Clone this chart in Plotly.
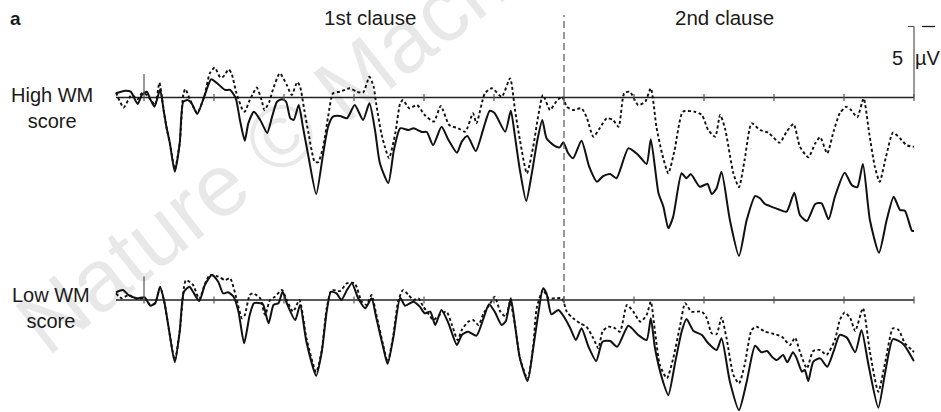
import plotly.graph_objects as go

# ---------------- data (time in ms, amplitude in microvolts; negative plotted up) ----------------
high_wm_solid = [(-200,-0.30),(-135,-0.48),(-95,-0.41),(-45,0.46),(-15,-0.18),(20,-0.41),(45,0.13),(75,0.65),(115,-0.56),(140,0.88),(160,2.06),(185,3.23),(220,5.23),(255,3.23),(280,0.32),(310,0.18),(340,0.41),(380,1.16),(430,-0.06),(480,-1.28),(520,-1.02),(580,-0.53),(615,-0.53),(655,0.04),(685,1.58),(720,3.04),(745,1.82),(785,1.00),(830,1.58),(880,2.50),(915,1.35),(950,0.30),(985,0.13),(1015,0.30),(1045,1.46),(1070,1.58),(1105,0.53),(1135,2.06),(1175,4.17),(1230,6.80),(1280,3.93),(1315,2.06),(1350,1.35),(1400,1.30),(1450,1.46),(1505,0.53),(1565,1.58),(1610,0.41),(1650,2.29),(1685,4.63),(1745,6.02),(1785,3.70),(1830,2.17),(1890,2.29),(1925,2.17),(1985,2.43),(2020,2.43),(2065,3.35),(2125,2.06),(2175,2.99),(2235,3.89),(2270,3.11),(2310,2.71),(2370,3.77),(2425,2.17),(2470,0.93),(2505,1.11),(2580,2.41),(2620,0.93),(2650,2.76),(2685,5.11),(2730,7.29),(2770,5.34),(2810,2.99),(2845,1.58),(2875,2.87),(2925,3.35),(2970,3.51),(2995,3.15),(3030,3.93),(3065,4.28),(3125,3.04),(3180,4.87),(3235,5.93),(3280,5.53),(3330,5.39),(3375,5.69),(3460,3.58),(3530,4.05),(3590,4.68),(3620,2.94),(3675,6.75),(3710,7.69),(3745,9.21),(3780,8.39),(3840,5.34),(3875,5.69),(3905,5.39),(3970,6.28),(4025,6.09),(4055,6.80),(4090,6.39),(4125,5.23),(4185,8.63),(4250,11.16),(4305,8.63),(4365,6.94),(4400,7.10),(4435,7.50),(4470,7.64),(4530,7.87),(4590,8.04),(4645,6.70),(4685,8.27),(4735,8.70),(4795,7.50),(4840,7.45),(4890,8.58),(4935,6.99),(5005,5.30),(5055,6.16),(5095,6.32),(5135,4.68),(5185,8.63),(5250,10.93),(5305,8.63),(5355,6.99),(5400,7.92),(5435,7.97),(5485,9.38),(5500,9.40)]

high_wm_dashed = [(-200,-0.35),(-145,0.70),(-90,-0.18),(-45,0.11),(-15,-0.30),(20,-0.18),(55,0.25),(80,0.53),(110,-1.04),(140,0.88),(160,2.06),(185,3.23),(220,5.04),(255,3.23),(280,-0.18),(295,-0.60),(330,0.18),(380,1.09),(430,-0.06),(470,-1.70),(505,-2.11),(545,-1.41),(565,-1.46),(605,-1.97),(625,-1.70),(660,-0.32),(705,0.88),(720,1.00),(750,0.30),(780,-0.30),(805,-0.70),(840,0.18),(860,0.88),(895,0.30),(920,-0.53),(970,-1.70),(1020,-0.88),(1055,-0.18),(1095,-1.09),(1115,-0.76),(1145,0.88),(1175,2.52),(1220,4.54),(1245,4.54),(1280,3.46),(1315,1.35),(1350,-0.30),(1400,-0.41),(1470,-0.65),(1520,-0.41),(1565,-0.35),(1610,-1.46),(1640,-0.76),(1660,0.53),(1695,2.52),(1720,3.46),(1750,4.28),(1795,2.52),(1830,0.41),(1850,0.18),(1895,0.76),(1950,0.53),(2005,1.23),(2070,1.70),(2120,0.60),(2180,1.94),(2245,2.17),(2295,2.41),(2350,1.11),(2375,1.82),(2435,-0.30),(2485,-0.65),(2555,-0.06),(2615,-1.35),(2650,0.88),(2685,2.99),(2735,5.34),(2780,3.46),(2815,1.35),(2850,-0.18),(2900,0.88),(2935,0.41),(2985,-0.06),(3020,0.65),(3065,0.88),(3125,0.76),(3160,1.35),(3210,2.76),(3255,2.17),(3305,1.46),(3350,1.58),(3390,2.06),(3430,-0.30),(3470,-0.41),(3530,0.53),(3580,0.30),(3620,-0.65),(3660,2.06),(3700,3.93),(3745,5.34),(3790,3.70),(3850,1.00),(3935,1.00),(3985,1.23),(4030,2.29),(4080,2.76),(4115,1.23),(4150,2.17),(4210,5.34),(4250,6.32),(4290,4.40),(4340,1.82),(4400,2.29),(4460,2.48),(4540,3.18),(4590,2.41),(4640,1.87),(4685,3.46),(4745,4.21),(4795,3.23),(4830,2.80),(4880,3.93),(4925,2.41),(4970,1.11),(5015,0.65),(5050,0.88),(5095,1.39),(5140,0.06),(5180,2.52),(5220,4.87),(5255,5.93),(5300,4.17),(5350,2.48),(5400,2.87),(5445,3.35),(5490,3.46),(5500,3.46)]

low_wm_solid = [(-200,-0.54),(-150,-0.70),(-110,-0.35),(-50,-0.12),(5,-0.19),(45,0.40),(80,0.23),(115,-0.94),(145,0.12),(175,1.88),(220,4.39),(255,2.23),(285,-0.58),(325,-0.94),(350,-0.58),(395,0.07),(435,-1.06),(485,-1.76),(530,-1.29),(565,-0.47),(600,-0.54),(640,-0.23),(675,0.82),(715,3.05),(755,1.06),(785,0.23),(830,0.23),(850,0.30),(890,1.64),(925,0.35),(960,0.23),(990,-0.58),(1020,0.23),(1080,1.41),(1115,0.35),(1160,2.94),(1230,5.33),(1270,3.64),(1305,0.82),(1335,-0.58),(1375,-0.47),(1410,0.00),(1450,-0.70),(1485,-1.18),(1530,-0.12),(1580,0.58),(1625,-0.12),(1660,1.29),(1710,3.40),(1740,4.51),(1780,2.70),(1830,-0.16),(1865,0.40),(1925,0.12),(1970,0.47),(2005,0.94),(2045,0.82),(2080,1.76),(2125,0.70),(2175,1.64),(2235,3.17),(2270,2.46),(2315,2.23),(2375,2.51),(2425,1.29),(2465,0.30),(2505,0.82),(2555,1.76),(2585,1.48),(2620,-0.12),(2650,1.76),(2685,4.11),(2740,5.70),(2780,3.40),(2815,1.06),(2850,-0.82),(2875,-0.47),(2910,1.01),(2960,0.70),(3000,1.18),(3045,1.99),(3085,2.82),(3125,1.99),(3175,3.29),(3230,4.30),(3275,2.94),(3330,2.89),(3380,3.29),(3460,1.81),(3530,2.46),(3590,2.82),(3620,1.29),(3650,3.40),(3700,5.51),(3745,6.69),(3795,4.35),(3840,2.23),(3875,1.34),(3925,2.18),(3985,2.46),(4030,3.05),(4090,3.52),(4125,2.70),(4185,5.75),(4250,7.75),(4305,5.75),(4365,3.22),(4410,3.68),(4450,3.59),(4485,3.99),(4520,4.23),(4565,3.87),(4595,4.39),(4635,3.68),(4660,4.06),(4700,5.05),(4720,4.93),(4745,5.70),(4780,4.35),(4830,4.11),(4880,4.70),(4925,3.64),(4970,2.46),(5020,2.65),(5080,3.68),(5125,2.11),(5175,4.58),(5245,7.58),(5295,5.05),(5350,2.75),(5425,3.12),(5495,4.23),(5500,4.30)]

low_wm_dashed = [(-200,-0.47),(-160,-0.12),(-110,-0.35),(-50,-0.07),(5,-0.14),(45,0.35),(80,0.21),(115,-0.88),(145,0.14),(175,1.90),(220,4.23),(255,2.18),(285,-0.85),(300,-1.41),(350,-1.06),(395,-0.07),(435,-1.13),(470,-1.76),(530,-1.64),(580,-1.41),(615,-1.53),(660,-0.12),(700,1.29),(720,1.06),(755,-0.35),(780,-0.47),(830,-0.12),(865,1.06),(900,0.00),(935,-0.23),(985,-0.70),(1020,0.00),(1065,0.82),(1110,0.00),(1160,2.68),(1230,5.07),(1270,3.52),(1305,0.58),(1340,-0.70),(1400,-0.63),(1450,-1.18),(1505,-1.18),(1555,0.12),(1590,0.35),(1625,-0.35),(1660,1.06),(1710,3.24),(1740,4.37),(1780,2.54),(1815,0.12),(1850,-0.70),(1890,-0.35),(1925,0.00),(1960,-0.12),(1995,0.47),(2030,0.94),(2065,1.41),(2110,1.06),(2160,0.82),(2200,1.76),(2240,2.82),(2270,2.11),(2315,1.53),(2350,1.41),(2390,1.76),(2425,0.94),(2470,0.30),(2505,-0.23),(2545,0.82),(2585,1.18),(2615,0.12),(2650,1.76),(2685,4.08),(2740,5.56),(2780,3.24),(2805,0.58),(2850,-0.70),(2890,-0.12),(2935,-0.12),(2985,-0.12),(3020,0.82),(3065,1.29),(3115,1.64),(3160,1.88),(3210,2.70),(3245,3.40),(3275,2.23),(3315,1.88),(3365,1.99),(3400,2.23),(3450,0.35),(3495,0.82),(3545,1.53),(3590,1.06),(3620,0.12),(3650,2.23),(3685,4.58),(3735,5.51),(3780,4.11),(3830,1.76),(3865,0.23),(3910,0.82),(3985,0.82),(4020,1.29),(4055,2.35),(4090,2.41),(4125,1.23),(4160,2.64),(4210,5.28),(4250,5.87),(4290,4.58),(4340,2.11),(4375,1.88),(4435,2.23),(4485,2.35),(4555,2.58),(4615,3.17),(4650,2.65),(4685,3.64),(4735,4.81),(4780,3.59),(4830,3.52),(4875,3.87),(4935,2.82),(4970,1.41),(5005,0.87),(5045,1.29),(5080,2.18),(5135,0.58),(5185,3.64),(5245,6.46),(5295,4.35),(5350,1.99),(5390,2.11),(5435,3.05),(5485,3.52),(5500,3.66)]

word_ticks_ms = [500, 1000, 1500, 2000, 2500, 3000, 3500, 4000, 4500, 5000, 5500]
clause_onset_ms = 3000
scale_uv = 5
panel_labels = ["High WM<br>score", "Low WM<br>score"]
clause_labels = ["1st clause", "2nd clause"]

# ---------------- layout geometry (pixels) ----------------
W, H = 941, 412
T_START, T_END = -200, 5500
X0_PX, X1_PX = 116, 914
PX_PER_MS = (X1_PX - X0_PX) / (T_END - T_START)
PX_PER_UV = 14.2
TOP_BASE_PX, BOT_BASE_PX, SPLIT_PX = 97.5, 300.0, 270.0

def px_x(px):
    return px / W

def px_y(py):
    return 1 - py / H

x_range = [T_START - X0_PX / PX_PER_MS, T_START + (W - X0_PX) / PX_PER_MS]
top_range = [(SPLIT_PX - TOP_BASE_PX) / PX_PER_UV, (0 - TOP_BASE_PX) / PX_PER_UV]
bot_range = [(H - BOT_BASE_PX) / PX_PER_UV, (SPLIT_PX - BOT_BASE_PX) / PX_PER_UV]

FONT = "Liberation Sans, Arial, Helvetica, sans-serif"
INK = "#1a1a1a"
GREY = "#555555"

fig = go.Figure()

def add_wave(pairs, xa, ya, dashed):
    fig.add_trace(go.Scatter(
        x=[p[0] for p in pairs], y=[p[1] for p in pairs],
        xaxis=xa, yaxis=ya, mode="lines", hoverinfo="skip", showlegend=False,
        line=dict(color="#111111", width=2.0 if not dashed else 1.9,
                  dash="3px,2.5px" if dashed else "solid",
                  shape="spline", smoothing=0.6)))

add_wave(high_wm_dashed, "x", "y", True)
add_wave(high_wm_solid, "x", "y", False)
add_wave(low_wm_dashed, "x2", "y2", True)
add_wave(low_wm_solid, "x2", "y2", False)

shapes = []
tick_uv = 3.5 / PX_PER_UV
onset_uv = 23.5 / PX_PER_UV
for xr, yr in (("x", "y"), ("x2", "y2")):
    shapes.append(dict(type="line", xref=xr, yref=yr, x0=T_START, x1=T_END, y0=0, y1=0,
                       line=dict(color="#222222", width=1.4), layer="below"))
    shapes.append(dict(type="line", xref=xr, yref=yr, x0=0, x1=0, y0=-onset_uv, y1=tick_uv,
                       line=dict(color=GREY, width=1.2)))
    for t in word_ticks_ms:
        shapes.append(dict(type="line", xref=xr, yref=yr, x0=t, x1=t, y0=-tick_uv, y1=tick_uv,
                           line=dict(color=GREY, width=1.2)))

shapes.append(dict(type="line", xref="x", yref="paper", x0=clause_onset_ms, x1=clause_onset_ms,
                   y0=px_y(303), y1=px_y(15), line=dict(color=GREY, width=1.2, dash="7px,4px")))
shapes.append(dict(type="line", xref="x", yref="y", x0=T_END, x1=T_END, y0=0, y1=-scale_uv,
                   line=dict(color=GREY, width=1.2)))
shapes.append(dict(type="line", xref="x", yref="y", x0=T_END - 6 / PX_PER_MS, x1=T_END,
                   y0=-scale_uv, y1=-scale_uv, line=dict(color=GREY, width=1.2)))
shapes.append(dict(type="line", xref="paper", yref="y", x0=px_x(922), x1=px_x(935),
                   y0=-scale_uv, y1=-scale_uv, line=dict(color=INK, width=1.3)))

def label(text, xpx, ypx, size=20, **kw):
    d = dict(text=text, x=px_x(xpx), y=px_y(ypx), xref="paper", yref="paper", showarrow=False,
             xanchor="center", yanchor="middle", font=dict(family=FONT, size=size, color=INK))
    d.update(kw)
    return d

annotations = [
    label("Nature © Macmillan", 333, 95, textangle=-38,
          font=dict(family=FONT, size=88, color="rgba(0,0,0,0.09)")),
    label("<b>a</b>", 16, 19, size=19),
    label(clause_labels[0], 370, 18, size=20.5),
    label(clause_labels[1], 724, 18, size=20.5),
    label(panel_labels[0], 52, 108, size=20),
    label(panel_labels[1], 51, 308, size=20),
    label(str(scale_uv), 897, 58, size=20),
    label("µV", 928, 58, size=20),
]

axis_off = dict(visible=False, showgrid=False, zeroline=False, fixedrange=True)
fig.update_layout(
    width=W, height=H, autosize=False,
    margin=dict(l=0, r=0, t=0, b=0, pad=0),
    paper_bgcolor="white", plot_bgcolor="rgba(0,0,0,0)",
    showlegend=False,
    xaxis=dict(axis_off, range=x_range, domain=[0, 1], anchor="y"),
    yaxis=dict(axis_off, range=top_range, domain=[px_y(SPLIT_PX), 1], anchor="x"),
    xaxis2=dict(axis_off, range=x_range, domain=[0, 1], anchor="y2"),
    yaxis2=dict(axis_off, range=bot_range, domain=[0, px_y(SPLIT_PX)], anchor="x2"),
    shapes=shapes,
    annotations=annotations,
)

fig.write_html("out.html", config={"displayModeBar": False, "staticPlot": True},
               post_script="document.body.style.margin='0';document.body.style.padding='0';")
